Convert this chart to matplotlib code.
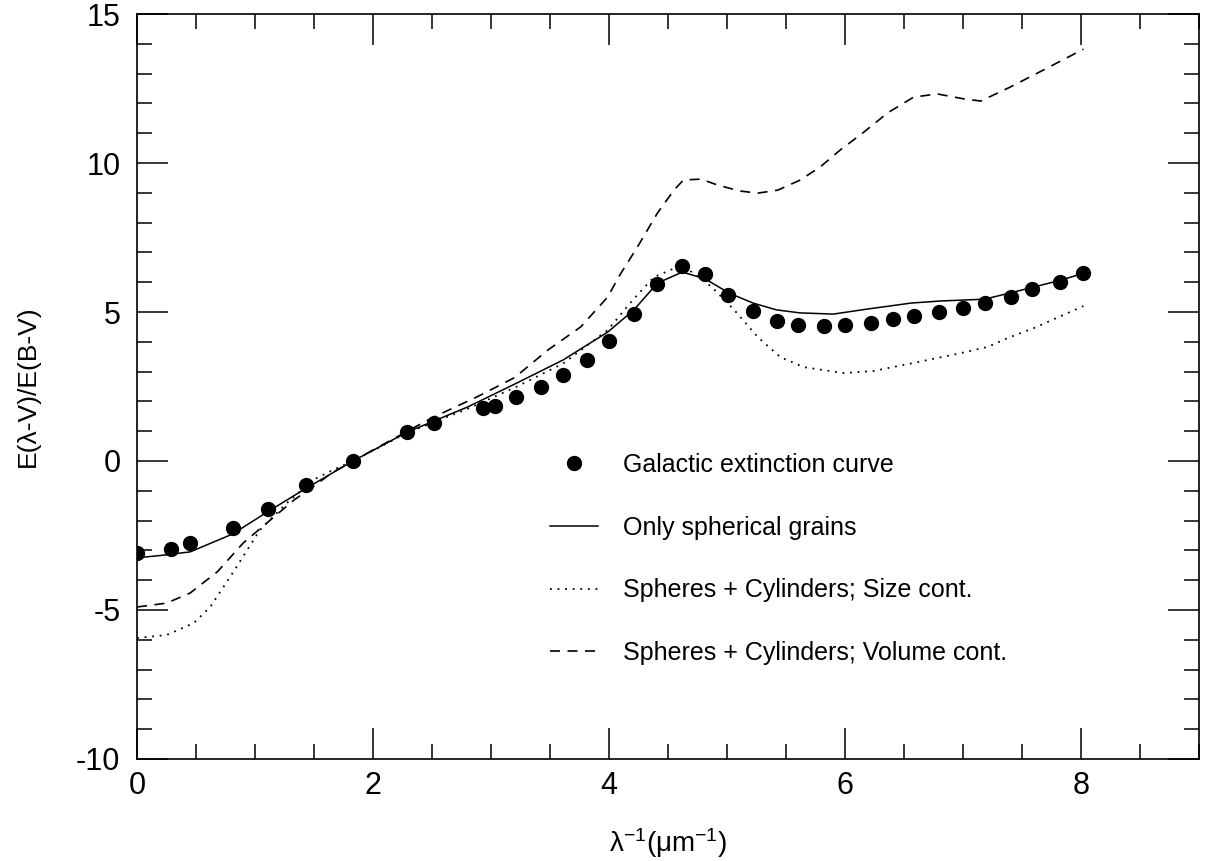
"""
Extinction curve: galactic data vs grain models
"""

import matplotlib
matplotlib.use("Agg")
import matplotlib.pyplot as plt
from matplotlib.ticker import MultipleLocator

plt.rcParams["font.family"] = ["Liberation Sans", "DejaVu Sans"]
plt.rcParams["mathtext.fontset"] = "custom"
plt.rcParams["mathtext.rm"] = "Liberation Sans"
plt.rcParams["mathtext.it"] = "Liberation Sans:italic"
plt.rcParams["mathtext.default"] = "regular"
plt.rcParams["axes.unicode_minus"] = False

# galactic extinction curve (dots)
gal_x = [0.0, 0.29, 0.45, 0.81, 1.11, 1.43, 1.83, 2.29, 2.52, 2.93, 3.03, 3.21,
         3.42, 3.61, 3.81, 4.0, 4.21, 4.41, 4.62, 4.81, 5.01, 5.22, 5.42, 5.6,
         5.82, 6.0, 6.22, 6.41, 6.58, 6.8, 7.0, 7.19, 7.41, 7.58, 7.82, 8.02]
gal_y = [-3.09, -2.95, -2.75, -2.25, -1.61, -0.81, 0.0, 0.97, 1.28, 1.78, 1.85, 2.15,
         2.48, 2.89, 3.39, 4.03, 4.93, 5.94, 6.54, 6.27, 5.57, 5.03, 4.70, 4.56,
         4.53, 4.56, 4.63, 4.75, 4.86, 4.99, 5.12, 5.29, 5.50, 5.76, 6.01, 6.30]

# only spherical grains (solid)
sph_x = [0.0, 0.2, 0.45, 0.81, 1.1, 1.41, 1.83, 2.29, 2.8, 3.22, 3.61, 3.99, 4.21,
         4.41, 4.62, 4.81, 5.02, 5.22, 5.42, 5.62, 5.9, 6.19, 6.56, 6.81, 7.18,
         7.40, 7.60, 7.83, 8.02]
sph_y = [-3.25, -3.17, -3.05, -2.45, -1.72, -0.97, 0.0, 0.97, 1.81, 2.62, 3.39, 4.33, 5.07,
         5.97, 6.34, 6.12, 5.63, 5.30, 5.07, 4.97, 4.93, 5.10, 5.30, 5.37, 5.43,
         5.64, 5.84, 6.07, 6.30]

# spheres + cylinders, size cont. (dotted)
siz_x = [0.0, 0.25, 0.48, 0.62, 0.81, 1.04, 1.27, 1.49, 1.66, 1.83, 2.29, 2.8, 3.22,
         3.61, 3.99, 4.2, 4.38, 4.62, 4.87, 5.06, 5.26, 5.45, 5.65, 5.99, 6.24,
         6.58, 6.98, 7.21, 7.38, 7.6, 8.02]
siz_y = [-5.94, -5.84, -5.44, -4.9, -3.76, -2.32, -1.41, -0.64, -0.3, 0.0, 0.95, 1.75, 2.5,
         3.27, 4.4, 5.4, 6.17, 6.58, 5.84, 5.07, 4.16, 3.49, 3.15, 2.95, 3.02,
         3.29, 3.62, 3.83, 4.13, 4.46, 5.20]

# spheres + cylinders, volume cont. (dashed)
vol_x = [0.0, 0.25, 0.45, 0.68, 0.9, 1.1, 1.33, 1.49, 1.65, 1.83, 2.29, 2.5, 2.88,
         3.2, 3.48, 3.76, 3.99, 4.08, 4.24, 4.41, 4.55, 4.63, 4.78, 4.92, 5.11,
         5.26, 5.43, 5.62, 5.79, 5.96, 6.16, 6.36, 6.58, 6.78, 7.01, 7.15, 7.40,
         7.68, 8.02]
vol_y = [-4.9, -4.77, -4.43, -3.72, -2.75, -2.08, -1.31, -0.87, -0.4, 0.0, 1.0, 1.45, 2.15,
         2.8, 3.72, 4.5, 5.51, 6.17, 7.18, 8.32, 9.09, 9.43, 9.46, 9.26, 9.06,
         8.99, 9.09, 9.43, 9.87, 10.44, 11.04, 11.68, 12.21, 12.32, 12.15, 12.08, 12.55,
         13.12, 13.82]

labels = ["Galactic extinction curve", "Only spherical grains",
          "Spheres + Cylinders; Size cont.", "Spheres + Cylinders; Volume cont."]


fig = plt.figure(figsize=(12.14, 8.61), dpi=100)
ax = fig.add_axes([0.1129, 0.1185, 0.8748, 0.8652])

ax.plot(gal_x, gal_y, "o", color="black", ms=10, label=labels[0])
ax.plot(sph_x, sph_y, "-", color="black", lw=1.1, label=labels[1])
ax.plot(siz_x, siz_y, color="black", lw=1.3, dashes=(1.0, 3.2), label=labels[2])
ax.plot(vol_x, vol_y, color="black", lw=1.2, dashes=(6, 4.5), label=labels[3])

ax.set_xlim(0, 9)
ax.set_ylim(-10, 15)
ax.xaxis.set_major_locator(MultipleLocator(2))
ax.xaxis.set_minor_locator(MultipleLocator(0.5))
ax.yaxis.set_major_locator(MultipleLocator(5))
ax.yaxis.set_minor_locator(MultipleLocator(1))
ax.set_xticks([0, 2, 4, 6, 8])
ax.tick_params(which="both", direction="in", top=True, right=True, width=1.1)
ax.tick_params(which="major", length=22, labelsize=22)
ax.tick_params(axis="x", which="major", pad=9)
ax.tick_params(axis="y", which="major", pad=12)
ax.tick_params(which="minor", length=11)
for s in ax.spines.values():
    s.set_linewidth(1.2)

ax.set_xlabel(r"$\lambda^{-1}$(μm$^{-1}$)", fontsize=20, labelpad=18)
ax.set_ylabel("E(λ-V)/E(B-V)", fontsize=19, labelpad=26)

ax.legend(loc="upper left", bbox_to_anchor=(0.389, 0.411), frameon=False,
          fontsize=18, handlelength=1.9, handletextpad=1.0, labelspacing=1.55,
          borderpad=0, borderaxespad=0)

fig.savefig("out.png", dpi=100)
